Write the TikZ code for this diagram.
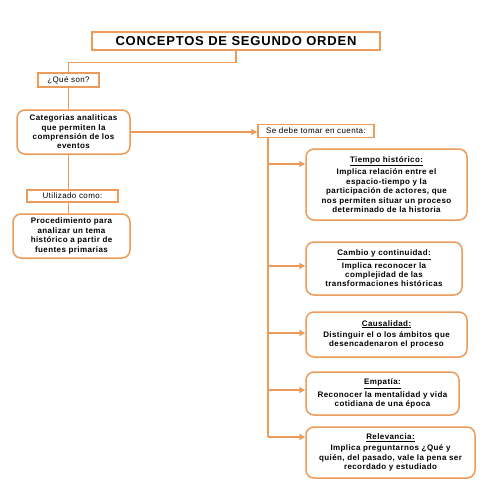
\documentclass[tikz,border=0pt]{standalone}
\usepackage{fontspec}
\setmainfont{Liberation Sans}[LetterSpace=5]
\newfontfamily\titulofont{Liberation Sans}[LetterSpace=6]
\usepackage{xcolor}
\usetikzlibrary{arrows.meta,positioning}
\definecolor{naranja}{RGB}{237,155,90}

\begin{document}
\begin{tikzpicture}[x=1pt, y=-1pt,
    caja/.style={draw=naranja, line width=1.5pt, fill=white, inner sep=2pt, align=center},
    etiqueta/.style={caja, font=\fontsize{8}{9}\selectfont},
    bloque/.style={caja, rounded corners=8pt, font=\bfseries\fontsize{8}{9.4}\selectfont},
    linea/.style={draw=naranja, line width=1.5pt},
    flecha/.style={linea, -{Triangle[length=6pt,width=6pt]}}]
    \useasboundingbox (0,0) rectangle (495,495);

    \node[caja, minimum width=288pt, minimum height=18pt, font=\titulofont\bfseries\fontsize{13}{14}\selectfont] (t) at (236,41) {CONCEPTOS DE SEGUNDO ORDEN};
    \node[etiqueta, minimum width=61pt, minimum height=14pt] (q) at (68.5,80) {¿Qué son?};
    \node[bloque, minimum width=113pt, minimum height=44pt] (c) at (73.5,132) {Categorias analiticas\\que permiten la\\comprensión de los\\eventos};
    \node[etiqueta, minimum width=116pt, minimum height=13pt] (s) at (316,131) {Se debe tomar en cuenta:};
    \node[etiqueta, minimum width=91pt, minimum height=12pt] (u) at (72.5,196) {Utilizado como:};
    \node[bloque, minimum width=117pt, minimum height=44pt] (p) at (71.5,236) {Procedimiento para\\analizar un tema\\histórico a partir de\\fuentes primarias};

    \node[bloque, minimum width=161pt, minimum height=71pt] (h1) at (386.5,184.5) {\underline{Tiempo histórico:}\\[2pt]Implica relación entre el\\espacio-tiempo y la\\participación de actores, que\\nos permiten situar un proceso\\determinado de la historia};
    \node[bloque, minimum width=156pt, minimum height=53pt] (h2) at (384,268.5) {\underline{Cambio y continuidad:}\\[2pt]Implica reconocer la\\complejidad de las\\transformaciones históricas};
    \node[bloque, minimum width=161pt, minimum height=45pt] (h3) at (386.5,334.5) {\underline{Causalidad:}\\[2pt]Distinguir el o los ámbitos que\\desencadenaron el proceso};
    \node[bloque, minimum width=153pt, minimum height=43pt] (h4) at (382.5,393.5) {\underline{Empatía:}\\[2pt]Reconocer la mentalidad y vida\\cotidiana de una época};
    \node[bloque, minimum width=169pt, minimum height=51pt] (h5) at (390.5,452.5) {\underline{Relevancia:}\\[2pt]Implica preguntarnos ¿Qué y\\quién, del pasado, vale la pena ser\\recordado y estudiado};

    % conectores de la izquierda
    \draw[linea] (t.south) -- ++(0,12) -| (q.north);
    \draw[linea] (q.south) -- (q.south |- c.north);
    \draw[linea] (q.south |- c.south) -- (q.south |- u.north);
    \draw[linea] (q.south |- u.south) -- (q.south |- p.north);
    \draw[flecha] (c.east) -- (c.east -| s.west);

    % tronco de la derecha
    \coordinate (r0) at (268,137.5);
    \foreach \n/\y in {1/164, 2/266, 3/333, 4/390, 5/437}
        \coordinate (r\n) at (268,\y);
    \draw[linea] (r0) -- (r5);
    \foreach \n in {1,...,5}
        \draw[flecha] (r\n) -- (r\n -| h\n.west);
\end{tikzpicture}
\end{document}
